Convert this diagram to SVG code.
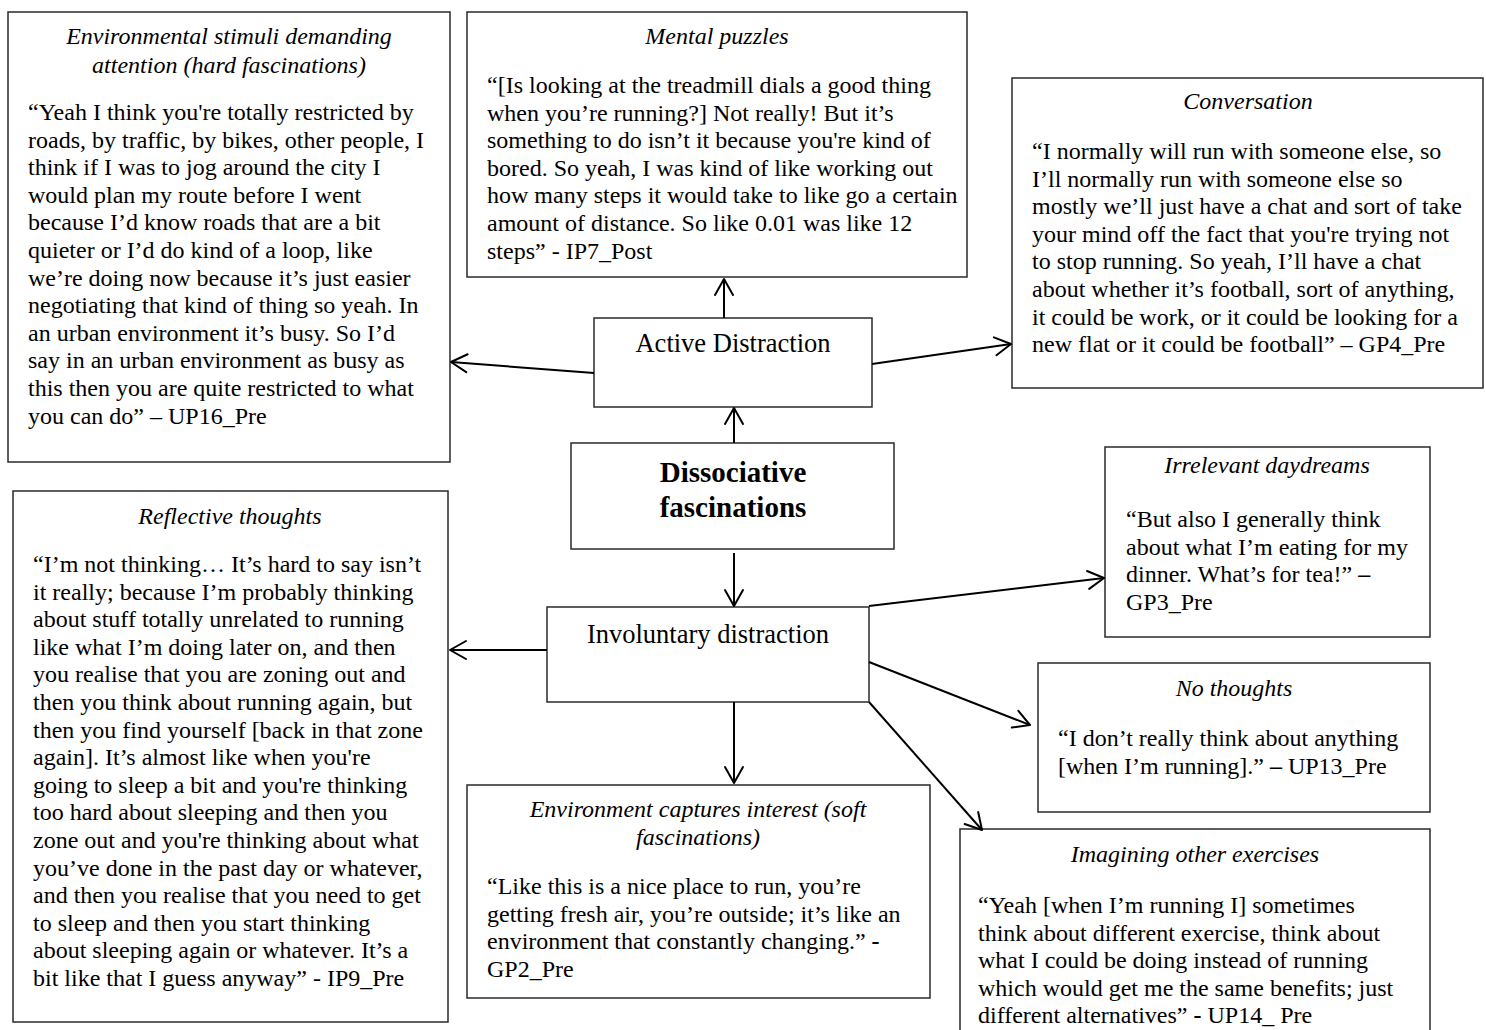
<svg xmlns="http://www.w3.org/2000/svg" width="1486" height="1030" viewBox="0 0 1486 1030">
  <style>
    .box { fill: #fff; stroke: #2a2a2a; stroke-width: 1.5; }
    .t { font-family: "Liberation Serif", "Times New Roman", serif; font-size: 24px; fill: #000; }
    .ti { font-family: "Liberation Serif", "Times New Roman", serif; font-size: 24px; font-style: italic; fill: #000; text-anchor: middle; }
    .lbl { font-family: "Liberation Serif", "Times New Roman", serif; font-size: 26.5px; fill: #000; text-anchor: middle; }
    .core { font-family: "Liberation Serif", "Times New Roman", serif; font-size: 29px; font-weight: bold; fill: #000; text-anchor: middle; }
    .b { font-weight: bold; }
    .conn line { stroke: #000; stroke-width: 2; fill: none; marker-end: url(#arr); }
  </style>
  <defs>
    <marker id="arr" viewBox="-18 -11 20 22" markerWidth="20" markerHeight="22" refX="0" refY="0" orient="auto" markerUnits="userSpaceOnUse">
      <path d="M-16,-9 L0,0 L-16,9" fill="none" stroke="#000" stroke-width="2" stroke-linejoin="round" stroke-linecap="round"/>
    </marker>
  </defs>
  <rect width="1486" height="1030" fill="#fff"/>

  <!-- hard fascinations -->
  <g id="hard-fascinations">
    <rect class="box" x="8" y="12" width="442" height="450"/>
    <text class="ti"><tspan x="229" y="44">Environmental stimuli demanding</tspan><tspan x="229" y="73">attention (hard fascinations)</tspan></text>
    <text class="t">
      <tspan x="28" y="120">“Yeah I think you're totally restricted by</tspan>
      <tspan x="28" y="147.6">roads, by traffic, by bikes, other people, I</tspan>
      <tspan x="28" y="175.2">think if I was to jog around the city I</tspan>
      <tspan x="28" y="202.8">would plan my route before I went</tspan>
      <tspan x="28" y="230.4">because I’d know roads that are a bit</tspan>
      <tspan x="28" y="258">quieter or I’d do kind of a loop, like</tspan>
      <tspan x="28" y="285.6">we’re doing now because it’s just easier</tspan>
      <tspan x="28" y="313.2">negotiating that kind of thing so yeah. In</tspan>
      <tspan x="28" y="340.8">an urban environment it’s busy. So I’d</tspan>
      <tspan x="28" y="368.4">say in an urban environment as busy as</tspan>
      <tspan x="28" y="396">this then you are quite restricted to what</tspan>
      <tspan x="28" y="423.6">you can do” – UP16_Pre</tspan>
    </text>
  </g>

  <!-- mental puzzles -->
  <g id="mental-puzzles">
    <rect class="box" x="467" y="12" width="500" height="265"/>
    <text class="ti" x="717" y="44">Mental puzzles</text>
    <text class="t">
      <tspan x="487" y="93">“[Is looking at the treadmill dials a good thing</tspan>
      <tspan x="487" y="120.6">when you’re running?] Not really! But it’s</tspan>
      <tspan x="487" y="148.2">something to do isn’t it because you're kind of</tspan>
      <tspan x="487" y="175.8">bored. So yeah, I was kind of like working out</tspan>
      <tspan x="487" y="203.4">how many steps it would take to like go a certain</tspan>
      <tspan x="487" y="231">amount of distance. So like 0.01 was like 12</tspan>
      <tspan x="487" y="258.6">steps” - IP7_Post</tspan>
    </text>
  </g>

  <!-- conversation -->
  <g id="conversation">
    <rect class="box" x="1012" y="78" width="471" height="310"/>
    <text class="ti" x="1248" y="109">Conversation</text>
    <text class="t">
      <tspan x="1032" y="159">“I normally will run with someone else, so</tspan>
      <tspan x="1032" y="186.6">I’ll normally run with someone else so</tspan>
      <tspan x="1032" y="214.2">mostly we’ll just have a chat and sort of take</tspan>
      <tspan x="1032" y="241.8">your mind off the fact that you're trying not</tspan>
      <tspan x="1032" y="269.4">to stop running. So yeah, I’ll have a chat</tspan>
      <tspan x="1032" y="297">about whether it’s football, sort of anything,</tspan>
      <tspan x="1032" y="324.6">it could be work, or it could be looking for a</tspan>
      <tspan x="1032" y="352.2">new flat or it could be football” – GP4_Pre</tspan>
    </text>
  </g>

  <!-- active distraction -->
  <g id="active-distraction">
    <rect class="box" x="594" y="318" width="278" height="89"/>
    <text class="lbl" x="733" y="352">Active Distraction</text>
  </g>

  <!-- central concept -->
  <g id="dissociative-fascinations">
    <rect class="box" x="571" y="443" width="323" height="106"/>
    <text class="core"><tspan x="733" y="482">Dissociative</tspan><tspan x="733" y="517">fascinations</tspan></text>
  </g>

  <!-- involuntary distraction -->
  <g id="involuntary-distraction">
    <rect class="box" x="547" y="607" width="322" height="95"/>
    <text class="lbl" x="708" y="643">Involuntary distraction</text>
  </g>

  <!-- reflective thoughts -->
  <g id="reflective-thoughts">
    <rect class="box" x="13" y="491" width="435" height="531"/>
    <text class="ti" x="230" y="524">Reflective thoughts</text>
    <text class="t">
      <tspan x="33" y="572">“I’m not thinking… It’s hard to say isn’t</tspan>
      <tspan x="33" y="599.6">it really; because I’m probably thinking</tspan>
      <tspan x="33" y="627.2">about stuff totally unrelated to running</tspan>
      <tspan x="33" y="654.8">like what I’m doing later on, and then</tspan>
      <tspan x="33" y="682.4">you realise that you are zoning out and</tspan>
      <tspan x="33" y="710">then you think about running again, but</tspan>
      <tspan x="33" y="737.6">then you find yourself [back in that zone</tspan>
      <tspan x="33" y="765.2">again]. It’s almost like when you're</tspan>
      <tspan x="33" y="792.8">going to sleep a bit and you're thinking</tspan>
      <tspan x="33" y="820.4">too hard about sleeping and then you</tspan>
      <tspan x="33" y="848">zone out and you're thinking about what</tspan>
      <tspan x="33" y="875.6">you’ve done in the past day or whatever,</tspan>
      <tspan x="33" y="903.2">and then you realise that you need to get</tspan>
      <tspan x="33" y="930.8">to sleep and then you start thinking</tspan>
      <tspan x="33" y="958.4">about sleeping again or whatever. It’s a</tspan>
      <tspan x="33" y="986">bit like that I guess anyway” - IP9_Pre</tspan>
    </text>
  </g>

  <!-- irrelevant daydreams -->
  <g id="irrelevant-daydreams">
    <rect class="box" x="1105" y="447" width="325" height="190"/>
    <text class="ti" x="1267" y="473">Irrelevant daydreams</text>
    <text class="t">
      <tspan x="1126" y="527">“But also I generally think</tspan>
      <tspan x="1126" y="554.6">about what I’m eating for my</tspan>
      <tspan x="1126" y="582.2">dinner. What’s for tea!” <tspan class="b">–</tspan></tspan>
      <tspan x="1126" y="609.8">GP3_Pre</tspan>
    </text>
  </g>

  <!-- no thoughts -->
  <g id="no-thoughts">
    <rect class="box" x="1038" y="663" width="392" height="149"/>
    <text class="ti" x="1234" y="696">No thoughts</text>
    <text class="t">
      <tspan x="1058" y="746">“I don’t really think about anything</tspan>
      <tspan x="1058" y="773.6">[when I’m running].” <tspan class="b">–</tspan> UP13_Pre</tspan>
    </text>
  </g>

  <!-- soft fascinations -->
  <g id="soft-fascinations">
    <rect class="box" x="467" y="785" width="463" height="213"/>
    <text class="ti"><tspan x="698" y="817">Environment captures interest (soft</tspan><tspan x="698" y="845">fascinations)</tspan></text>
    <text class="t">
      <tspan x="487" y="894">“Like this is a nice place to run, you’re</tspan>
      <tspan x="487" y="921.6">getting fresh air, you’re outside; it’s like an</tspan>
      <tspan x="487" y="949.2">environment that constantly changing.” <tspan class="b">-</tspan></tspan>
      <tspan x="487" y="976.8">GP2_Pre</tspan>
    </text>
  </g>

  <!-- imagining other exercises -->
  <g id="other-exercises">
    <rect class="box" x="960" y="829" width="470" height="210"/>
    <text class="ti" x="1195" y="862">Imagining other exercises</text>
    <text class="t">
      <tspan x="978" y="913">“Yeah [when I’m running I] sometimes</tspan>
      <tspan x="978" y="940.6">think about different exercise, think about</tspan>
      <tspan x="978" y="968.2">what I could be doing instead of running</tspan>
      <tspan x="978" y="995.8">which would get me the same benefits; just</tspan>
      <tspan x="978" y="1023.4">different alternatives” <tspan class="b">-</tspan> UP14_ Pre</tspan>
    </text>
  </g>

  <!-- connectors -->
  <g id="connectors" class="conn">
    <line x1="724" y1="318" x2="724" y2="279"/>
    <line x1="734" y1="443" x2="734" y2="408"/>
    <line x1="594" y1="373" x2="451" y2="362"/>
    <line x1="872" y1="364" x2="1011" y2="344"/>
    <line x1="734" y1="553" x2="734" y2="606"/>
    <line x1="547" y1="650" x2="450" y2="650"/>
    <line x1="869" y1="606" x2="1104" y2="578"/>
    <line x1="869" y1="662" x2="1030" y2="725"/>
    <line x1="734" y1="702" x2="734" y2="783"/>
    <line x1="869" y1="702" x2="982" y2="830"/>
  </g>
</svg>
